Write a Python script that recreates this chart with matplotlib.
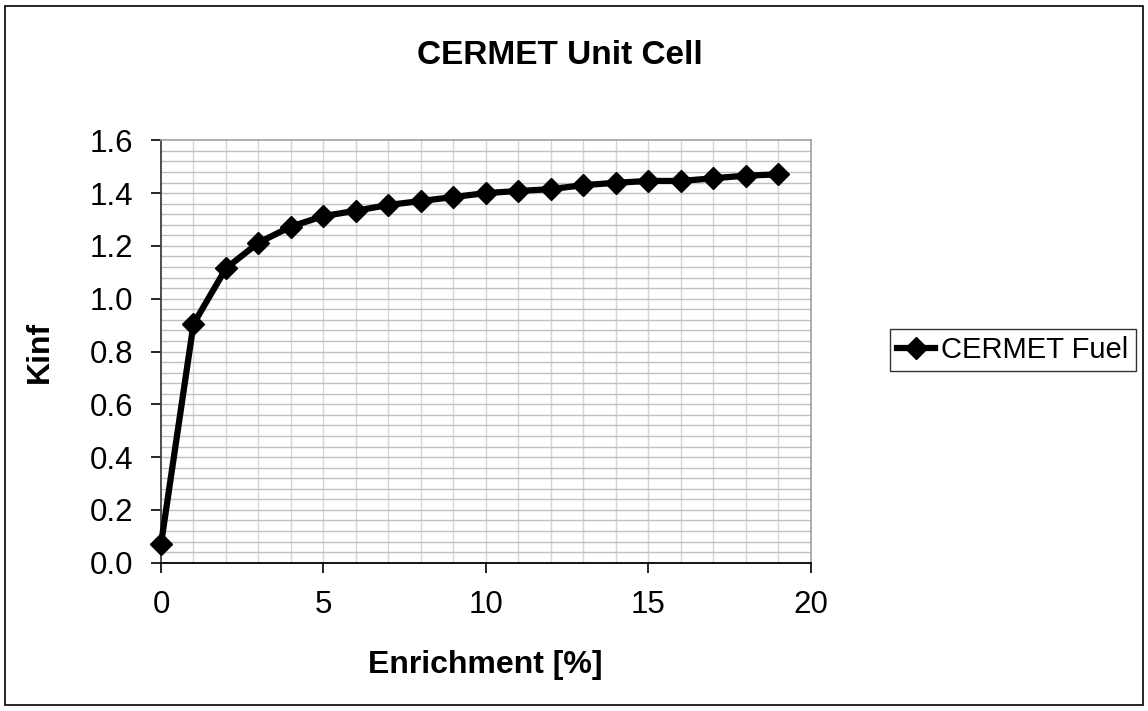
import matplotlib
matplotlib.use("Agg")
import matplotlib.pyplot as plt
from matplotlib.patches import Rectangle
from matplotlib.ticker import MultipleLocator, FormatStrFormatter

plt.rcParams['font.family'] = ['Liberation Sans', 'DejaVu Sans']

enrichment = [0, 1, 2, 3, 4, 5, 6, 7, 8, 9, 10, 11, 12, 13, 14, 15, 16, 17, 18, 19]
kinf = [0.07, 0.904, 1.115, 1.212, 1.273, 1.313, 1.333, 1.355, 1.370, 1.385,
        1.400, 1.408, 1.415, 1.430, 1.439, 1.446, 1.446, 1.456, 1.466, 1.471]

title = "CERMET Unit Cell"
xlabel = "Enrichment [%]"
ylabel = "Kinf"
series_name = "CERMET Fuel"

W, H = 1148, 711
fig = plt.figure(figsize=(W / 100, H / 100), dpi=100)
fig.patch.set_facecolor("white")

# outer chart border
fig.patches.append(Rectangle((5 / W, 6 / H), (1143 - 5) / W, (705 - 6) / H,
                             transform=fig.transFigure, fill=False,
                             edgecolor="black", linewidth=1.2))

left, right, top, bottom = 161, 810.5, 140.3, 562.7
ax = fig.add_axes([left / W, 1 - bottom / H, (right - left) / W, (bottom - top) / H])

ax.set_xlim(0, 20)
ax.set_ylim(0, 1.6)
ax.xaxis.set_major_locator(MultipleLocator(5))
ax.yaxis.set_major_locator(MultipleLocator(0.2))
ax.yaxis.set_major_formatter(FormatStrFormatter('%.1f'))

# grid
for xv in range(1, 20):
    ax.axvline(xv, color="#d4d4d4", linewidth=1.0, zorder=0)
yv = 0.04
while yv < 1.6 - 1e-9:
    ax.axhline(yv, color="#c0c0c0", linewidth=1.0, zorder=0)
    yv += 0.04

for s in ["top", "right"]:
    ax.spines[s].set_color("#a0a0a0")
    ax.spines[s].set_linewidth(1.2)
ax.spines["left"].set_color("#404040")
ax.spines["left"].set_linewidth(1.3)
ax.spines["bottom"].set_color("black")
ax.spines["bottom"].set_linewidth(1.3)

ax.tick_params(axis="both", direction="out", length=7, width=1.2, color="black",
               labelsize=22.5, pad=13)

line, = ax.plot(enrichment, kinf, color="black", linewidth=4.5, marker="D",
                markersize=11, markerfacecolor="black", markeredgecolor="black",
                clip_on=False, zorder=3, label=series_name)

fig.text(560 / W, 1 - 55 / H, title, ha="center", va="center",
         fontsize=24, fontweight="bold")
fig.text((left + right) / 2 / W, 1 - 665 / H, xlabel, ha="center", va="center",
         fontsize=23, fontweight="bold")
fig.text(40 / W, 1 - (top + bottom) / 2 / H, ylabel, ha="center", va="center",
         rotation=90, fontsize=23, fontweight="bold")

leg = fig.legend(handles=[line], loc="center left",
                 bbox_to_anchor=(890 / W, 1 - 350 / H), fontsize=21,
                 frameon=True, fancybox=False, edgecolor="black",
                 handlelength=1.3, handletextpad=0.2, borderpad=0.25,
                 borderaxespad=0)
leg.get_frame().set_linewidth(1.0)

fig.savefig("out.png", dpi=100, facecolor="white")
